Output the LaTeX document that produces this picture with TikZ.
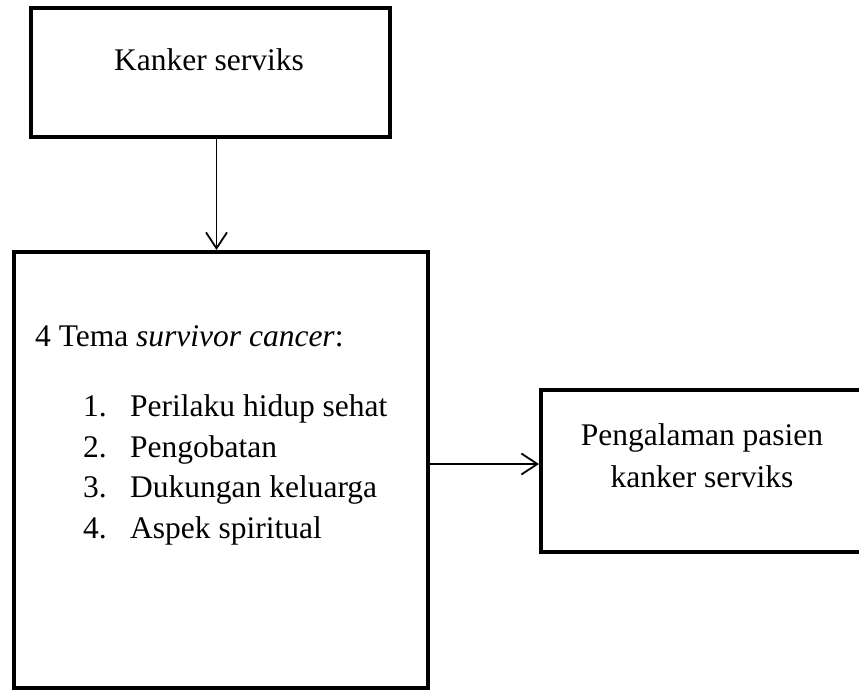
\documentclass[tikz,border=0pt]{standalone}
\usepackage{fontspec}
\setmainfont{Liberation Serif}
\usetikzlibrary{arrows.meta}
\begin{document}
\begin{tikzpicture}[x=1pt,y=-1pt,
  box/.style={draw=black, line width=4pt, fill=none, inner sep=0pt},
  txt/.style={inner sep=0pt, font=\fontsize{31.5}{36}\selectfont},
  arr/.style={line width=1.8pt, -{Straight Barb[length=16pt,width=21pt,line width=1.8pt]}}]
\clip (0,0) rectangle (859,690);
\useasboundingbox (0,0) rectangle (859,690);
\node[box, minimum width=359pt, minimum height=129pt] (b1) at (210.5,73) {};
\node[box, minimum width=414pt, minimum height=436pt] (b2) at (221,470) {};
\node[box, minimum width=359pt, minimum height=162pt] (b3) at (720.5,471) {};
\node[txt, anchor=base] (t1) at (209,71) {Kanker serviks};
\node[txt, anchor=base west] (t2) at (35,346) {4 Tema \textit{survivor cancer}:};
\node[txt, anchor=base west] (n1) at (83,416.5) {1.};
\node[txt, anchor=base west] (l1) at (130,416.5) {Perilaku hidup sehat};
\node[txt, anchor=base west] (n2) at (83,457) {2.};
\node[txt, anchor=base west] (l2) at (130,457) {Pengobatan};
\node[txt, anchor=base west] (n3) at (83,497.5) {3.};
\node[txt, anchor=base west] (l3) at (130,497.5) {Dukungan keluarga};
\node[txt, anchor=base west] (n4) at (83,538) {4.};
\node[txt, anchor=base west] (l4) at (130,538) {Aspek spiritual};
\node[txt, anchor=base] (t3) at (702,445) {Pengalaman pasien};
\node[txt, anchor=base] (t4) at (702,487) {kanker serviks};
\draw[arr] ([xshift=6pt]b1.south) -- ([xshift=6pt]b1.south |- b2.north);
\draw[arr] ([yshift=6pt]b2.east) -- ([yshift=7pt]b3.west);
\end{tikzpicture}
\end{document}
